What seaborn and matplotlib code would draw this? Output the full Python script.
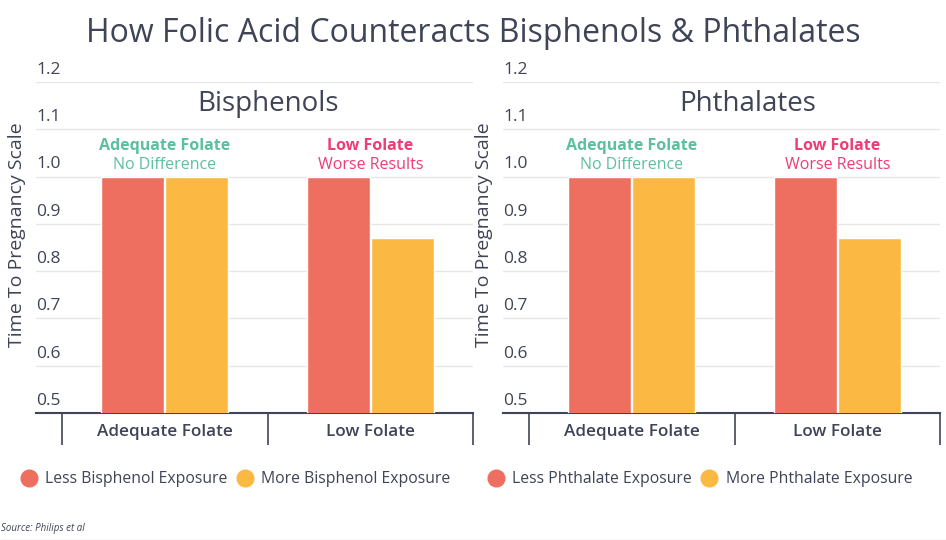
import pandas as pd
import numpy as np
import matplotlib.pyplot as plt
import seaborn as sns
from matplotlib.lines import Line2D

sns.set_style("white")
plt.rcParams['font.family'] = ['Open Sans', 'DejaVu Sans']

# Data
folate_groups = ["Adequate Folate", "Low Folate"]
bisphenol_less = [1.0, 1.0]
bisphenol_more = [1.0, 0.87]
phthalate_less = [1.0, 1.0]
phthalate_more = [1.0, 0.87]
y_ticks = [0.5, 0.6, 0.7, 0.8, 0.9, 1.0, 1.1, 1.2]

TEXT = '#3f4456'
RED = '#ee6f5f'
YELLOW = '#fbb943'
TEAL = '#5cbf9f'
PINK = '#ec3d74'

panels = [
    ("Bisphenols", "Bisphenol", bisphenol_less, bisphenol_more, 36, 0.5),
    ("Phthalates", "Phthalate", phthalate_less, phthalate_more, 503, 0.565),
]

W, H = 946, 540
fig = plt.figure(figsize=(W / 100, H / 100), dpi=100)

for title, chem, less, more, left_px, title_x in panels:
    ax = fig.add_axes([left_px / W, (H - 413) / H, 437 / W, 331 / H])
    less_lbl = f"Less {chem} Exposure"
    more_lbl = f"More {chem} Exposure"
    df = pd.DataFrame({
        "group": folate_groups * 2,
        "exposure": [less_lbl] * 2 + [more_lbl] * 2,
        "value": less + more,
    })
    sns.barplot(data=df, x="group", y="value", hue="exposure",
                palette=[RED, YELLOW], width=0.625, gap=0.02,
                saturation=1, legend=False, ax=ax, zorder=3)

    ax.set_xlim(-0.627, 1.5)
    ax.set_ylim(0.5, 1.2)
    ax.set_yticks(y_ticks)
    ax.set_yticklabels([])
    ax.tick_params(axis='y', length=0)
    ax.yaxis.grid(True, color='#e6e6e6', linewidth=1)
    ax.set_axisbelow(True)
    for s in ['top', 'right', 'left']:
        ax.spines[s].set_visible(False)
    ax.spines['bottom'].set_color(TEXT)
    ax.spines['bottom'].set_linewidth(1.5)

    # y tick labels sit above the grid lines
    for t in y_ticks:
        ax.annotate(f"{t:.1f}", xy=(0, t), xycoords=ax.get_yaxis_transform(),
                    xytext=(0, 3), textcoords='offset points',
                    ha='left', va='bottom', fontsize=12.5, color=TEXT)

    # category labels and separators
    ax.set_xticks([0, 1])
    ax.set_xticklabels(folate_groups, fontsize=12.3, color=TEXT, fontweight='semibold')
    ax.tick_params(axis='x', which='major', length=0, pad=8)
    ax.set_xticks([-0.5, 0.5, 1.5], minor=True)
    ax.tick_params(axis='x', which='minor', bottom=True, length=23, width=1.2,
                   color=TEXT, direction='out')
    ax.set_xlabel("")

    ax.set_ylabel("Time To Pregnancy Scale", fontsize=14, color=TEXT)
    ax.yaxis.set_label_coords(-0.022, 0.54)

    ax.text(title_x, 1.153, title, ha='center', va='center', fontsize=20, color=TEXT)
    ax.text(0, 1.065, "Adequate Folate", ha='center', va='center',
            fontsize=11.5, fontweight='bold', color=TEAL)
    ax.text(0, 1.024, "No Difference", ha='center', va='center',
            fontsize=11.5, color=TEAL)
    ax.text(1, 1.065, "Low Folate", ha='center', va='center',
            fontsize=11.5, fontweight='bold', color=PINK)
    ax.text(1, 1.024, "Worse Results", ha='center', va='center',
            fontsize=11.5, color=PINK)

    handles = [Line2D([], [], marker='o', linestyle='', markersize=12,
                      markerfacecolor=c, markeredgecolor=c) for c in (RED, YELLOW)]
    fig.legend(handles, [less_lbl, more_lbl], ncol=2, frameon=False,
               loc='center left', bbox_to_anchor=((left_px - 31) / W, (H - 479) / H),
               fontsize=11.3, labelcolor=TEXT, handletextpad=0.45, columnspacing=0.5,
               handlelength=1.2)

fig.text(0.5, (H - 33) / H, "How Folic Acid Counteracts Bisphenols & Phthalates",
         ha='center', va='center', fontsize=23, color=TEXT)
fig.text(0.001, (H - 528) / H, "Source: Philips et al", ha='left', va='center',
         fontsize=7, style='italic', color=TEXT)
fig.add_artist(Line2D([0, 1], [0.5 / H, 0.5 / H], color='#d0d0d0', linewidth=1))

fig.savefig("out.png", dpi=100)
